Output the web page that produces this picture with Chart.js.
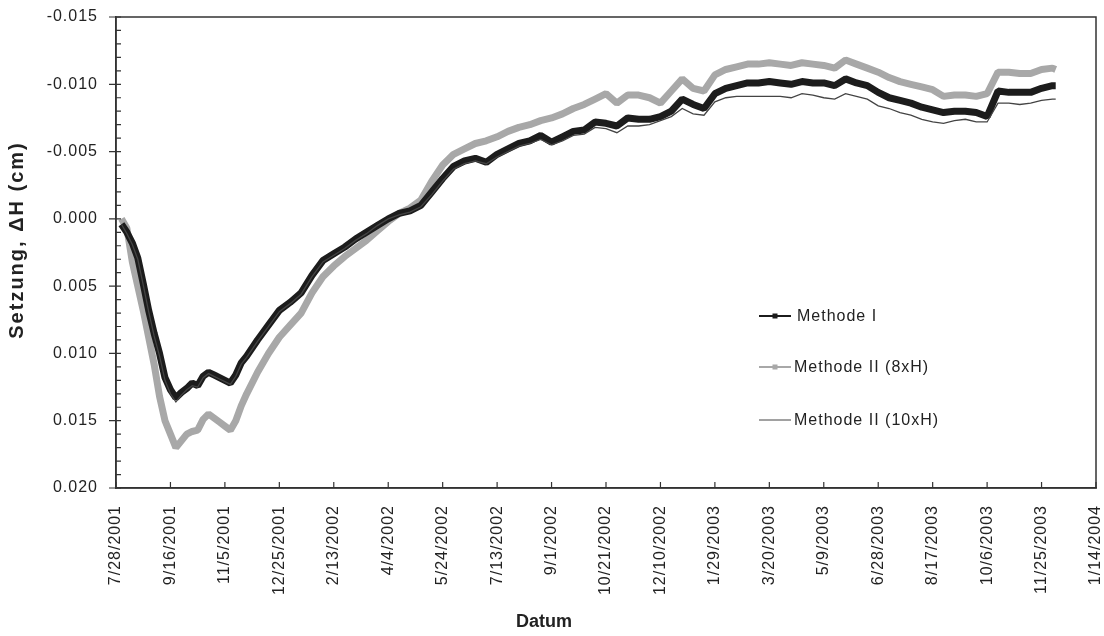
<!DOCTYPE html>
<html>
<head>
<meta charset="utf-8">
<script src="https://cdn.jsdelivr.net/npm/chart.js@4.4.1/dist/chart.umd.min.js"></script>
<style>
  html, body { margin: 0; padding: 0; background: #fff; }
  #wrap { width: 1104px; height: 636px; }
</style>
</head>
<body>
<div id="wrap"><canvas id="setzung" width="1104" height="636"></canvas></div>
<script>
// days since 7/28/2001
const days = [5, 10, 15, 20, 25, 30, 35, 40, 45, 50, 55, 60, 65, 70, 75, 80, 85, 90, 95, 100,
  105, 110, 115, 120, 130, 140, 150, 160, 170, 180, 190, 200, 210, 220, 230, 240, 250, 260, 270, 280,
  290, 300, 310, 320, 330, 340, 350, 360, 370, 380, 390, 400, 410, 420, 430, 440, 450, 460, 470, 480,
  490, 500, 510, 520, 530, 540, 550, 560, 570, 580, 590, 600, 610, 620, 630, 640, 650, 660, 670, 680,
  690, 700, 710, 720, 730, 740, 750, 760, 770, 780, 790, 800, 810, 820, 830, 840, 850, 860, 863];

const methode1 = [0.0004, 0.0010, 0.0018, 0.0029, 0.0048, 0.0068, 0.0085, 0.0100, 0.0118, 0.0127,
  0.0133, 0.0129, 0.0126, 0.0122, 0.0124, 0.0117, 0.0114, 0.0116, 0.0118, 0.0120,
  0.0122, 0.0116, 0.0107, 0.0102, 0.0090, 0.0079, 0.0068, 0.0062, 0.0055, 0.0042,
  0.0031, 0.0026, 0.0021, 0.0015, 0.0010, 0.0005, 0.0000, -0.0004, -0.0006, -0.0010,
  -0.0020, -0.0030, -0.0039, -0.0043, -0.0045, -0.0042, -0.0048, -0.0052, -0.0056, -0.0058,
  -0.0062, -0.0057, -0.0061, -0.0065, -0.0066, -0.0072, -0.0071, -0.0069, -0.0075, -0.0074,
  -0.0074, -0.0076, -0.0080, -0.0089, -0.0085, -0.0082, -0.0093, -0.0097, -0.0099, -0.0101,
  -0.0101, -0.0102, -0.0101, -0.0100, -0.0102, -0.0101, -0.0101, -0.0099, -0.0104, -0.0101,
  -0.0099, -0.0094, -0.0090, -0.0088, -0.0086, -0.0083, -0.0081, -0.0079, -0.0080, -0.0080,
  -0.0079, -0.0076, -0.0095, -0.0094, -0.0094, -0.0094, -0.0097, -0.0099, -0.0099];

const methode2_8xH = [0.0000, 0.0007, 0.0032, 0.0050, 0.0068, 0.0088, 0.0108, 0.0132, 0.0150, 0.0160,
  0.0170, 0.0165, 0.0160, 0.0158, 0.0157, 0.0149, 0.0145, 0.0148, 0.0151, 0.0154,
  0.0157, 0.0150, 0.0139, 0.0130, 0.0114, 0.0100, 0.0088, 0.0079, 0.0070, 0.0055,
  0.0043, 0.0035, 0.0028, 0.0022, 0.0016, 0.0009, 0.0002, -0.0004, -0.0008, -0.0014,
  -0.0028, -0.0040, -0.0048, -0.0052, -0.0056, -0.0058, -0.0061, -0.0065, -0.0068, -0.0070,
  -0.0073, -0.0075, -0.0078, -0.0082, -0.0085, -0.0089, -0.0093, -0.0086, -0.0092, -0.0092,
  -0.0090, -0.0086, -0.0095, -0.0104, -0.0097, -0.0095, -0.0107, -0.0111, -0.0113, -0.0115,
  -0.0115, -0.0116, -0.0115, -0.0114, -0.0116, -0.0115, -0.0114, -0.0112, -0.0118, -0.0115,
  -0.0112, -0.0109, -0.0105, -0.0102, -0.0100, -0.0098, -0.0096, -0.0091, -0.0092, -0.0092,
  -0.0091, -0.0093, -0.0109, -0.0109, -0.0108, -0.0108, -0.0111, -0.0112, -0.0111];

const methode2_10xH = [0.0004, 0.0011, 0.0019, 0.0030, 0.0049, 0.0069, 0.0087, 0.0102, 0.0120, 0.0130,
  0.0136, 0.0131, 0.0127, 0.0124, 0.0125, 0.0118, 0.0115, 0.0117, 0.0119, 0.0121,
  0.0123, 0.0117, 0.0108, 0.0103, 0.0091, 0.0080, 0.0069, 0.0063, 0.0056, 0.0043,
  0.0032, 0.0027, 0.0022, 0.0016, 0.0011, 0.0005, 0.0000, -0.0003, -0.0005, -0.0009,
  -0.0018, -0.0028, -0.0037, -0.0041, -0.0043, -0.0041, -0.0046, -0.0050, -0.0054, -0.0056,
  -0.0059, -0.0055, -0.0058, -0.0062, -0.0063, -0.0068, -0.0067, -0.0064, -0.0069, -0.0069,
  -0.0070, -0.0073, -0.0076, -0.0082, -0.0078, -0.0077, -0.0087, -0.0090, -0.0091, -0.0091,
  -0.0091, -0.0091, -0.0091, -0.0090, -0.0093, -0.0092, -0.0090, -0.0089, -0.0093, -0.0091,
  -0.0089, -0.0084, -0.0082, -0.0079, -0.0077, -0.0074, -0.0072, -0.0071, -0.0073, -0.0074,
  -0.0072, -0.0072, -0.0086, -0.0086, -0.0085, -0.0086, -0.0088, -0.0089, -0.0089];

const seriesNames = ["Methode I", "Methode II (8xH)", "Methode II (10xH)"];
const yTicks = [-0.015, -0.010, -0.005, 0.000, 0.005, 0.010, 0.015, 0.020];

function toPoints(vals) {
  return days.map((d, i) => ({ x: d, y: vals[i] }));
}

function fmtDate(v) {
  const d = new Date(2001, 6, 28 + v);
  return (d.getMonth() + 1) + "/" + d.getDate() + "/" + d.getFullYear();
}

const tickFont = { family: "Arial, 'Liberation Sans'", size: 16 };

function noPad(s) {
  s.paddingLeft = 0; s.paddingRight = 0; s.paddingTop = 0; s.paddingBottom = 0;
}

// ticks, frame, titles and legend drawn by hand
const decorations = {
  id: "decorations",
  beforeDraw(chart) {
    chart.ctx.letterSpacing = "1px";
  },
  afterDraw(chart) {
    const ctx = chart.ctx;
    const a = chart.chartArea;
    const xs = chart.scales.x, ys = chart.scales.y;
    ctx.save();
    ctx.strokeStyle = "#333";
    ctx.lineWidth = 1.5;
    ctx.strokeRect(a.left, a.top, a.right - a.left, a.bottom - a.top);
    ctx.lineWidth = 1.2;
    ctx.beginPath();
    for (let v = 0; v <= 900; v += 50) {
      const px = xs.getPixelForValue(v);
      ctx.moveTo(px, a.bottom); ctx.lineTo(px, a.bottom - 6);
    }
    for (let i = 0; i <= 35; i++) {
      const py = ys.getPixelForValue(-0.015 + i * 0.001);
      if (i % 5 === 0) { ctx.moveTo(a.left - 7, py); ctx.lineTo(a.left + 5, py); }
      else { ctx.moveTo(a.left, py); ctx.lineTo(a.left + 5, py); }
    }
    ctx.stroke();

    // axis titles
    ctx.fillStyle = "#222";
    ctx.textAlign = "center";
    ctx.textBaseline = "middle";
    ctx.font = "bold 18px Arial, 'Liberation Sans'";
    ctx.letterSpacing = "0px";
    ctx.fillText("Datum", 544, 622);
    ctx.save();
    ctx.translate(17, 240);
    ctx.rotate(-Math.PI / 2);
    ctx.font = "bold 20px Arial, 'Liberation Sans'";
    ctx.letterSpacing = "2px";
    ctx.fillText("Setzung, \u0394H (cm)", 0, 0);
    ctx.restore();

    // legend
    const leg = [
      { y: 316, color: "#1c1c1c", w: 2, mark: 5, tx: 797 },
      { y: 367, color: "#a8a8a8", w: 2, mark: 5, tx: 794 },
      { y: 420, color: "#444", w: 1, mark: 0, tx: 794 }
    ];
    ctx.font = "16px Arial, 'Liberation Sans'";
    ctx.letterSpacing = "1px";
    ctx.textAlign = "left";
    leg.forEach((l, i) => {
      ctx.strokeStyle = l.color;
      ctx.lineWidth = l.w;
      ctx.beginPath();
      ctx.moveTo(759, l.y); ctx.lineTo(791, l.y);
      ctx.stroke();
      if (l.mark) {
        ctx.fillStyle = l.color;
        ctx.fillRect(775 - l.mark / 2, l.y - l.mark / 2, l.mark, l.mark);
      }
      ctx.fillStyle = "#222";
      ctx.fillText(seriesNames[i], l.tx, l.y + 1);
    });
    ctx.restore();
  }
};

new Chart(document.getElementById("setzung"), {
  type: "line",
  data: {
    datasets: [
      {
        label: seriesNames[0],
        data: toPoints(methode1),
        borderColor: "#1c1c1c",
        borderWidth: 7,
        borderJoinStyle: "bevel",
        pointRadius: 0,
        order: 1
      },
      {
        label: seriesNames[1],
        data: toPoints(methode2_8xH),
        borderColor: "#a8a8a8",
        borderWidth: 7,
        borderJoinStyle: "bevel",
        pointRadius: 0,
        order: 2
      },
      {
        label: seriesNames[2],
        data: toPoints(methode2_10xH),
        borderColor: "#444",
        borderWidth: 1.3,
        pointRadius: 0,
        order: 0
      }
    ]
  },
  options: {
    responsive: false,
    animation: false,
    parsing: false,
    layout: { padding: { top: 17, right: 8, left: 0, bottom: 0 } },
    plugins: {
      legend: { display: false },
      tooltip: { enabled: false }
    },
    scales: {
      x: {
        type: "linear",
        min: 0,
        max: 900,
        afterFit: (s) => { s.height = 148; noPad(s); },
        afterBuildTicks: (s) => { s.ticks = []; for (let v = 0; v <= 900; v += 50) s.ticks.push({ value: v }); },
        grid: { display: false },
        border: { display: true, color: "#333", width: 1.5 },
        ticks: {
          autoSkip: false,
          minRotation: 90,
          maxRotation: 90,
          padding: 9,
          color: "#222",
          font: tickFont,
          callback: (v) => fmtDate(v)
        }
      },
      y: {
        reverse: true,
        min: -0.015,
        max: 0.020,
        afterFit: (s) => { s.width = 116; noPad(s); },
        afterBuildTicks: (s) => { s.ticks = yTicks.map(v => ({ value: v })); },
        grid: { display: false },
        border: { display: true, color: "#333", width: 1.5 },
        ticks: {
          padding: 10,
          color: "#222",
          font: tickFont,
          callback: (v) => v.toFixed(3)
        }
      }
    }
  },
  plugins: [decorations]
});
</script>
</body>
</html>
